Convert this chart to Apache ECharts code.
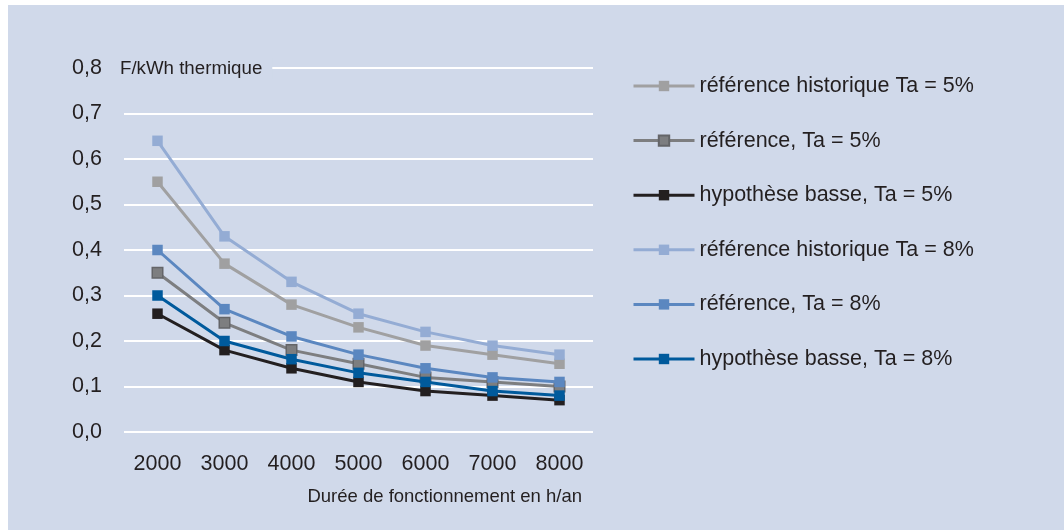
<!DOCTYPE html>
<html><head><meta charset="utf-8">
<script src="https://cdn.jsdelivr.net/npm/echarts@6/dist/echarts.min.js"></script>
<style>html,body{margin:0;padding:0;background:#fff;}#c{position:absolute;left:0;top:0;width:1064px;height:530px;}</style>
</head><body><div id="c"></div>
<script>
const categories = ['2000','3000','4000','5000','6000','7000','8000'];
const seriesNames = ['référence historique Ta = 5%','référence, Ta = 5%','hypothèse basse, Ta = 5%','référence historique Ta = 8%','référence, Ta = 8%','hypothèse basse, Ta = 8%'];
const refHist5 = [0.55, 0.37, 0.28, 0.23, 0.19, 0.17, 0.15];
const ref5 = [0.35, 0.24, 0.18, 0.15, 0.12, 0.11, 0.10];
const hyp5 = [0.26, 0.18, 0.14, 0.11, 0.09, 0.08, 0.07];
const refHist8 = [0.64, 0.43, 0.33, 0.26, 0.22, 0.19, 0.17];
const ref8 = [0.40, 0.27, 0.21, 0.17, 0.14, 0.12, 0.11];
const hyp8 = [0.30, 0.20, 0.16, 0.13, 0.11, 0.09, 0.08];
const yTicks = [0, 0.1, 0.2, 0.3, 0.4, 0.5, 0.6, 0.7, 0.8];

const colors = ['#a0a0a1', '#7d7e80', '#231f20', '#94acd4', '#5b87c0', '#005a9c'];
const borders = ['#a0a0a1', '#646568', '#231f20', '#94acd4', '#5b87c0', '#005a9c'];
const dataSets = [refHist5, ref5, hyp5, refHist8, ref8, hyp8];
const font = 'Liberation Sans, Arial, sans-serif';
const txt = '#231f20';
const bg = '#d0d9ea';

const chart = echarts.init(document.getElementById('c'));
chart.setOption({
  animation: false,
  graphic: [
    {type:'rect', left:8, top:5, shape:{width:1056, height:525}, style:{fill:bg}, z:-10},
    {type:'text', left:120, top:58, z:100, style:{text:'F/kWh thermique', fill:txt, font:'18.7px ' + font, backgroundColor:bg, padding:[1,10,1,0]}},
    {type:'text', right:482, top:487, z:100, style:{text:'Durée de fonctionnement en h/an', fill:txt, font:'18.5px ' + font}}
  ],
  grid: {left:124, right:471, top:68, bottom:98},
  legend: {
    orient:'vertical', left:627, top:70, itemWidth:61, itemHeight:13, itemGap:32.6,
    textStyle:{fontFamily:font, fontSize:21.5, color:txt},
    lineStyle:{width:3},
    data: seriesNames
  },
  xAxis: {
    type:'category', data:categories, boundaryGap:true,
    axisLine:{show:false}, axisTick:{show:false},
    axisLabel:{fontFamily:font, fontSize:21.5, color:txt, margin:21}
  },
  yAxis: {
    type:'value', min:yTicks[0], max:yTicks[yTicks.length-1], interval:0.1,
    axisLine:{show:false}, axisTick:{show:false},
    splitLine:{lineStyle:{color:'#ffffff', width:2}},
    axisLabel:{fontFamily:font, fontSize:21.5, color:txt, margin:22, padding:[3,0,0,0], formatter: v => v.toFixed(1).replace('.', ',')}
  },
  series: dataSets.map((d, i) => ({
    name: seriesNames[i], type:'line', data:d,
    symbol:'rect', symbolSize:10.5,
    lineStyle:{color:colors[i], width:3},
    itemStyle:{color:colors[i], borderColor:borders[i], borderWidth: i===1 ? 1.5 : 0},
    z: 2 + i
  }))
});
</script></body></html>
